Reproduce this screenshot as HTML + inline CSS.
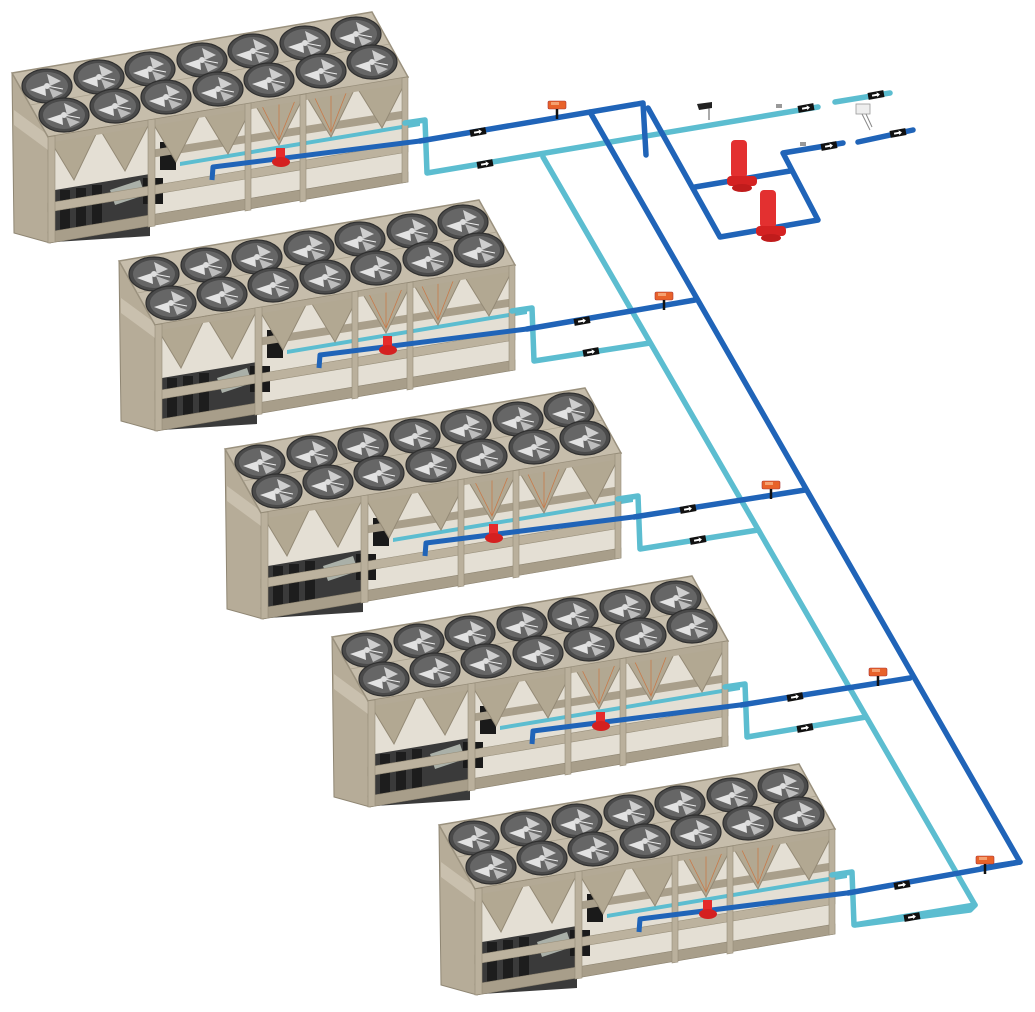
<!DOCTYPE html>
<html><head><meta charset="utf-8"><style>html,body{margin:0;padding:0;background:#fff}svg{display:block}</style></head>
<body>
<svg width="1035" height="1012" viewBox="0 0 1035 1012" xmlns="http://www.w3.org/2000/svg">
<defs>
 <g id="fan">
  <ellipse cx="0" cy="0" rx="25" ry="17" fill="#4a4a4a" stroke="#2f2f2f" stroke-width="1.2"/>
  <ellipse cx="0" cy="0" rx="21" ry="14" fill="#666"/>
  <path d="M-17,4 L-2,-1 L-1,10 Z" fill="#e2e2e2"/>
  <path d="M0,-12 L3,0 L14,-5 Z" fill="#cfcfcf"/>
  <path d="M2,2 L16,7 L6,12 Z" fill="#bdbdbd"/>
  <line x1="0" y1="0" x2="16" y2="3" stroke="#eee" stroke-width="1"/>
  <circle cx="0" cy="0" r="3" fill="#ddd"/>
 </g>
 <g id="badge">
  <rect x="-8" y="-3.5" width="16" height="7" fill="#111"/>
  <path d="M-4,-1 L1,-1 L1,-2.5 L4,0 L1,2.5 L1,1 L-4,1 Z" fill="#fff"/>
 </g>
 <g id="valve">
  <rect x="-9" y="-6" width="18" height="8" rx="1.5" fill="#e8622a" stroke="#a33" stroke-width="0.6"/>
  <rect x="-6" y="-5" width="8" height="3" fill="#f5a070"/>
  <line x1="0" y1="2" x2="0" y2="12" stroke="#111" stroke-width="2.5"/>
 </g>
 <g id="ch">
  <polygon points="12,73 48,137 50,243 14,233" fill="#b6ac98" stroke="#8f8673" stroke-width="1"/>
  <polygon points="14,110 48,135 48,150 14,125" fill="#c9c0ae"/>
  <polygon points="12,73 372,12 408,77 48,137" fill="#c6bdab" stroke="#9a917e" stroke-width="1.5"/>
  <g stroke="#aaa18e" stroke-width="0.8">
   <line x1="30" y1="105" x2="390" y2="44"/>
  </g>
  <use href="#fan" x="47" y="86"/><use href="#fan" x="99" y="77"/><use href="#fan" x="150" y="69"/><use href="#fan" x="202" y="60"/><use href="#fan" x="253" y="51"/><use href="#fan" x="305" y="43"/><use href="#fan" x="356" y="34"/>
  <use href="#fan" x="64" y="115"/><use href="#fan" x="115" y="106"/><use href="#fan" x="166" y="97"/><use href="#fan" x="218" y="89"/><use href="#fan" x="269" y="80"/><use href="#fan" x="321" y="71"/><use href="#fan" x="372" y="62"/>
  <polygon points="48,137 408,77 408,182 50,243" fill="#e4dfd4"/>
  <polygon points="55,190 150,174 150,236 55,242" fill="#3a3a3a"/>
  <rect x="60" y="190" width="10" height="48" fill="#1d1d1d"/><rect x="76" y="188" width="10" height="48" fill="#1d1d1d"/><rect x="92" y="185" width="10" height="48" fill="#1d1d1d"/>
  <polygon points="110,190 140,180 145,195 115,205" fill="#aab0a8"/>
  <rect x="160" y="142" width="16" height="28" fill="#1a1a1a"/>
  <rect x="143" y="178" width="20" height="26" fill="#1a1a1a"/>
  <polygon points="180,162 420,122 420,126 180,166" fill="#5cbdd0"/>
  <polygon points="150,150 408,110 408,118 150,158" fill="#a99f8b"/>
  <g fill="#b2a892" stroke="#948a76" stroke-width="1">
   <polygon points="48,137 99,128 74,180"/><polygon points="99,128 151,120 125,171"/><polygon points="151,120 202,111 176,162"/><polygon points="202,111 254,103 228,154"/><polygon points="254,103 305,94 279,145"/><polygon points="305,94 356,86 331,137"/><polygon points="356,86 408,77 382,128"/>
  </g>
  <g stroke="#c77a4a" stroke-width="0.8" fill="none"><path d="M262,106 L279,140 L296,98 M279,100 L279,140"/><path d="M313,94 L331,132 L348,88 M331,92 L331,132"/></g>
  <polygon points="48,137 408,77 408,83 48,143" fill="#b3a995"/>
  <polygon points="48,203 408,143 408,152 48,212" fill="#bcb29e" stroke="#988f7b" stroke-width="0.6"/>
  <polygon points="48,232 408,172 408,182 50,243" fill="#a89e8a" stroke="#8c8370" stroke-width="0.6"/>
  <g fill="#bab09c" stroke="#958c78" stroke-width="0.6">
   <polygon points="48,137 55,136 55,242 48,243"/>
   <polygon points="148,120 155,119 155,226 148,227"/>
   <polygon points="245,104 251,103 251,210 245,211"/>
   <polygon points="300,95 306,94 306,201 300,202"/>
   <polygon points="402,78 408,77 408,182 402,183"/>
  </g>
  <polyline points="212,180 213,167 420,141" fill="none" stroke="#2064b8" stroke-width="5" stroke-linejoin="round"/>
  <rect x="276" y="148" width="9" height="18" fill="#e52b2b"/>
  <ellipse cx="281" cy="162" rx="9" ry="5" fill="#d42020"/>
 </g>
</defs>

<use href="#ch"/>
<use href="#ch" transform="translate(107,188)"/>
<use href="#ch" transform="translate(213,376)"/>
<use href="#ch" transform="translate(320,564)"/>
<use href="#ch" transform="translate(427,752)"/>

<g fill="none" stroke-linejoin="round" stroke-linecap="round">
 <g stroke="#5cbdd0" stroke-width="5.5">
  <polyline points="405,123 425,120 427,173 818,107"/>
  <polyline points="543,157 975,905 970,910 855,925"/>
  <polyline points="512,311 532,308 534,361 650,343"/>
  <polyline points="618,499 638,496 640,549 758,530"/>
  <polyline points="725,687 745,684 747,737 866,717"/>
  <polyline points="832,875 852,872 854,925 975,905"/>
  <polyline points="835,102 890,93"/>
 </g>
 <g stroke="#2064b8" stroke-width="5.5">
  <polyline points="420,141 643,103 646,155"/>
  <polyline points="590,112 1020,862 982,868"/>
  <polyline points="527,329 695,300"/>
  <polyline points="634,517 805,490"/>
  <polyline points="741,705 910,678"/>
  <polyline points="848,893 1020,862"/>
  <polyline points="648,108 720,237 818,220 783,153 843,143"/>
  <polyline points="695,187 790,171"/>
  <polyline points="858,142 913,130"/>
 </g>
</g>

<g>
 <rect x="731" y="140" width="16" height="38" rx="4" fill="#e33030"/>
 <rect x="727" y="176" width="30" height="10" rx="4" fill="#d42222"/>
 <ellipse cx="742" cy="188" rx="10" ry="4" fill="#c01c1c"/>
 <rect x="760" y="190" width="16" height="38" rx="4" fill="#e33030"/>
 <rect x="756" y="226" width="30" height="10" rx="4" fill="#d42222"/>
 <ellipse cx="771" cy="238" rx="10" ry="4" fill="#c01c1c"/>
</g>

<path d="M697,104 L712,102 L712,108 L699,110 Z" fill="#222"/>
<line x1="709" y1="108" x2="709" y2="120" stroke="#555" stroke-width="1"/>
<rect x="776" y="104" width="6" height="4" fill="#999"/>
<rect x="800" y="142" width="6" height="4" fill="#999"/>
<rect x="856" y="104" width="14" height="10" fill="#eee" stroke="#999" stroke-width="0.8"/>
<path d="M862,114 L870,130 M866,114 L872,127" stroke="#888" stroke-width="1"/>

<g>
 <use href="#badge" transform="translate(478,132) rotate(-10)"/>
 <use href="#badge" transform="translate(485,164) rotate(-10)"/>
 <use href="#badge" transform="translate(582,321) rotate(-10)"/>
 <use href="#badge" transform="translate(591,352) rotate(-10)"/>
 <use href="#badge" transform="translate(688,509) rotate(-10)"/>
 <use href="#badge" transform="translate(698,540) rotate(-10)"/>
 <use href="#badge" transform="translate(795,697) rotate(-10)"/>
 <use href="#badge" transform="translate(805,728) rotate(-10)"/>
 <use href="#badge" transform="translate(902,885) rotate(-10)"/>
 <use href="#badge" transform="translate(912,917) rotate(-10)"/>
 <use href="#badge" transform="translate(806,108) rotate(-10)"/>
 <use href="#badge" transform="translate(876,95) rotate(-10)"/>
 <use href="#badge" transform="translate(829,146) rotate(-10)"/>
 <use href="#badge" transform="translate(898,133) rotate(-10)"/>
</g>

<use href="#valve" transform="translate(557,107)"/>
<use href="#valve" transform="translate(664,298)"/>
<use href="#valve" transform="translate(771,487)"/>
<use href="#valve" transform="translate(878,674)"/>
<use href="#valve" transform="translate(985,862)"/>
</svg>
</body></html>
